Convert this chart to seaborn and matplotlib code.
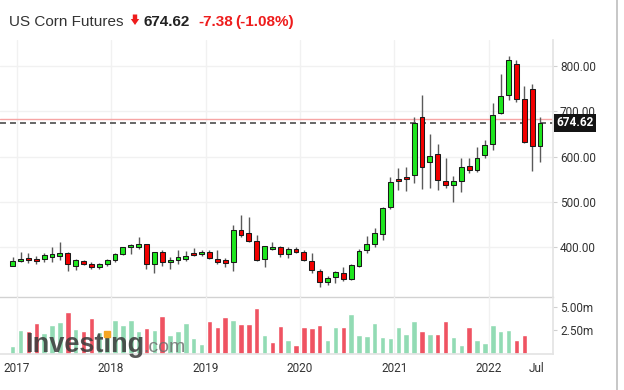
import numpy as np
import pandas as pd
import matplotlib
matplotlib.use("Agg")
import matplotlib.pyplot as plt
import matplotlib.transforms as mtransforms
from matplotlib.patches import Polygon
from matplotlib.lines import Line2D
import seaborn as sns

# ---------------- data (monthly candles, Jan 2017 ... Aug 2022) ----------------
opens = [359, 370, 376, 375, 374, 379, 381, 388, 359, 369, 364, 357,
         362, 372, 384, 400, 401, 406, 364, 389, 367, 371, 375, 387,
         384, 389, 373, 371, 367, 438, 432, 414, 373, 396, 401, 384,
         397, 389, 370, 348, 324, 334, 343, 330, 359, 393, 407, 429,
         489, 550, 554, 559, 687, 587, 606, 547, 537, 546, 579, 571,
         604, 628, 697, 735, 805, 727, 749, 624]
highs = [379, 390, 387, 380, 387, 401, 411, 390, 373, 372, 367, 366,
         373, 388, 401, 407, 423, 408, 390, 394, 379, 393, 391, 398,
         394, 394, 393, 376, 449, 471, 466, 427, 403, 412, 403, 401,
         401, 393, 388, 351, 336, 348, 357, 364, 395, 425, 442, 488,
         556, 574, 576, 687, 736, 651, 628, 596, 557, 597, 598, 621,
         637, 719, 783, 822, 814, 755, 761, 688]
lows = [358, 368, 366, 364, 367, 368, 372, 347, 350, 360, 351, 352,
        359, 368, 383, 385, 395, 352, 342, 359, 352, 364, 369, 381,
        381, 373, 364, 356, 348, 422, 412, 370, 357, 394, 379, 376,
        387, 369, 344, 313, 316, 320, 325, 328, 356, 387, 401, 417,
        484, 526, 525, 541, 529, 530, 526, 530, 500, 522, 563, 565,
        596, 614, 693, 724, 720, 629, 568, 588]
closes = [369, 375, 371, 369, 382, 385, 388, 362, 371, 362, 357, 364,
          372, 385, 400, 404, 407, 362, 389, 368, 372, 378, 380, 382,
          389, 376, 368, 366, 438, 427, 414, 372, 402, 400, 384, 397,
          390, 372, 350, 324, 333, 345, 330, 361, 392, 406, 431, 486,
          544, 546, 550, 675, 576, 602, 548, 537, 546, 578, 570, 598,
          626, 692, 734, 813, 727, 633, 623, 674.62]
volumes_m = [0.89, 2.59, 2.41, 3.27, 2.20, 3.05, 3.44, 4.51, 2.70, 2.40, 3.80, 2.30,
             2.60, 3.66, 3.12, 3.66, 2.49, 2.73, 2.59, 4.08, 2.02, 2.40, 3.34, 1.67,
             1.07, 3.55, 2.84, 3.91, 3.66, 3.23, 3.23, 4.90, 2.02, 1.24, 2.95, 1.49,
             0.96, 2.84, 2.73, 3.05, 1.49, 2.84, 2.84, 4.26, 2.02, 1.88, 3.27, 1.78,
             1.67, 2.84, 2.13, 3.55, 2.41, 2.13, 2.13, 3.55, 1.78, 0.96, 2.84, 1.49,
             1.17, 3.05, 2.41, 2.59, 1.49, 2.02, 0.10, 0.07]

x_tick_months = [0, 12, 24, 36, 48, 60, 66]
x_tick_labels = ["2017", "2018", "2019", "2020", "2021", "2022", "Jul"]
price_ticks = [400, 500, 600, 700, 800]
volume_ticks = [2.5, 5.0]

title_name = "US Corn Futures"
last_price = 674.62
change = -7.38
change_pct = -1.08
prev_close = last_price - change

# ---------------- style ----------------
sns.set_theme(style="white")
plt.rcParams["font.family"] = ["Roboto", "DejaVu Sans"]
plt.rcParams["lines.scale_dashes"] = False

W, H = 624, 390
def fx(px):
    return px / W
def fy(py):
    return 1 - py / H

fig = plt.figure(figsize=(6.24, 3.9), dpi=100)
fig.patch.set_facecolor("white")

ax = fig.add_axes([0, fy(297), fx(553), (297 - 40) / H])
axv = fig.add_axes([0, fy(354), fx(553), (354 - 297) / H])

idx = np.arange(len(closes))
o = np.array(opens, float); h = np.array(highs, float)
l = np.array(lows, float); c = np.array(closes, float)
up = c >= o
body_colors = np.where(up, "#1ee61e", "#f20000")

xlim = (-1.614, 68.65)
tick_pos = [m + 0.5 for m in x_tick_months]

# grid
for p in price_ticks:
    ax.axhline(p, color="#f1f1f1", lw=1.0, zorder=0)
for tp in tick_pos[:-1]:
    ax.axvline(tp, color="#f1f1f1", lw=1.0, zorder=0)
    axv.axvline(tp, color="#f1f1f1", lw=1.0, zorder=0)

# reference lines
ax.axhline(prev_close, color="#f6a5a5", lw=1.0, zorder=1)
ax.axhline(last_price, color="#5a5a5a", lw=1.3, linestyle=(0, (4.3, 2.9)), zorder=1.5)

# candles
ax.vlines(idx, l, h, color="#5a5a5a", lw=1.0, zorder=2)
ax.bar(idx, np.abs(c - o), bottom=np.minimum(o, c), width=0.62,
       color=body_colors, edgecolor="#1a1a1a", linewidth=0.75, zorder=3)

ax.set_xlim(*xlim)
ax.set_ylim(290.1, 857.4)
ax.yaxis.tick_right()
ax.set_yticks(price_ticks)
ax.set_yticklabels([f"{p:.2f}" for p in price_ticks])
ax.tick_params(axis="y", length=3, width=0.8, color="#d0d0d0", pad=2,
               labelsize=8.5, labelcolor="#333333")
ax.tick_params(axis="x", length=0, labelbottom=False)
ax.set_xticks([])
for s in ["top", "left"]:
    ax.spines[s].set_visible(False)
ax.spines["right"].set_color("#e4e4e4")
ax.spines["bottom"].set_color("#d2d2d2")
ax.spines["bottom"].set_linewidth(1.0)
ax.set_facecolor("white")

trans = mtransforms.blended_transform_factory(ax.transAxes, ax.transData)
ax.text(1.0 + 3.5 / 553, last_price, f"{last_price:.2f}", transform=trans,
        ha="left", va="center", color="white", fontsize=8.5, fontweight="bold",
        bbox=dict(boxstyle="square,pad=0.22", fc="#141414", ec="none"),
        zorder=10, clip_on=False)

# volume
vol_up = np.concatenate([[True], np.diff(c) >= 0])
vol_df = pd.DataFrame({"idx": idx, "vol": volumes_m,
                       "dir": np.where(vol_up, "up", "down")})
sns.barplot(data=vol_df, x="idx", y="vol", hue="dir",
            palette={"up": "#92dbb4", "down": "#ef5362"},
            native_scale=True, width=0.7, dodge=False, legend=False,
            errorbar=None, saturation=1, ax=axv, zorder=2)
axv.set_xlim(*xlim)
axv.set_ylim(0, 6.06)
axv.set_xlabel(""); axv.set_ylabel("")
axv.yaxis.tick_right()
axv.set_yticks(volume_ticks)
axv.set_yticklabels([f"{v:.2f}m" for v in volume_ticks])
axv.tick_params(axis="y", length=3, width=0.8, color="#d0d0d0", pad=2,
                labelsize=8.5, labelcolor="#333333")
axv.set_xticks(tick_pos)
axv.set_xticklabels(x_tick_labels)
axv.tick_params(axis="x", length=0, pad=6, labelsize=8.5, labelcolor="#333333")
for s in ["top", "left"]:
    axv.spines[s].set_visible(False)
axv.spines["right"].set_color("#e4e4e4")
axv.spines["bottom"].set_color("#e4e4e4")
axv.set_facecolor("none")

# watermark
fig.text(fx(25), fy(352), "Investing", fontsize=19.5, fontweight="bold",
         family="Liberation Sans", color="#3a3a3a", alpha=0.85, va="baseline", zorder=5)
fig.text(fx(143), fy(352), ".com", fontsize=14, family="Liberation Sans",
         color="#707070", alpha=0.85, va="baseline", zorder=5)
fig.add_artist(Line2D([fx(107)], [fy(333.5)], marker="s", ms=4.6, color="#f5a623",
                      transform=fig.transFigure, zorder=6))

# title
fig.text(fx(9.3), fy(26), title_name, fontsize=11, family="Liberation Sans",
         color="#333333", va="baseline")
arrow_px = [(132.8, 14.5), (137.2, 14.5), (137.2, 19.0), (139.2, 19.0),
            (135.0, 25.0), (130.8, 19.0), (132.8, 19.0)]
fig.add_artist(Polygon([(fx(x), fy(y)) for x, y in arrow_px], closed=True,
                       transform=fig.transFigure, fc="#ee1c1c", ec="none"))
fig.text(fx(144), fy(26), f"{last_price:.2f}", fontsize=11, family="Liberation Sans",
         fontweight="bold", color="#222222", va="baseline")
fig.text(fx(198.3), fy(26), f"{change:.2f}", fontsize=11, family="Liberation Sans",
         fontweight="bold", color="#ee1c1c", va="baseline")
fig.text(fx(235), fy(26), f"({change_pct:.2f}%)", fontsize=11, family="Liberation Sans",
         fontweight="bold", color="#ee1c1c", va="baseline")

# right frame line
fig.add_artist(Line2D([fx(617)] * 2, [0, 1], color="#bdbdbd", lw=1.2,
                      transform=fig.transFigure))

fig.savefig("out.png", dpi=100)
